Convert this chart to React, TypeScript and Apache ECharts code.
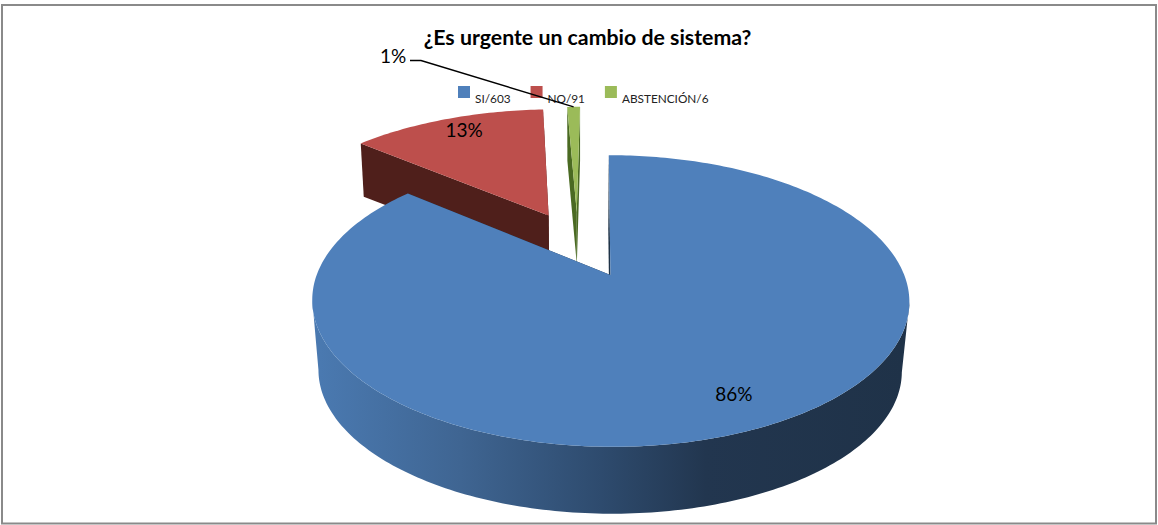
import React, { useEffect, useRef } from "react";
import * as echarts from "echarts";

const CATEGORIES = ["SI", "NO", "ABSTENCIÓN"];
const VALUES = [603, 91, 6];
const FACE_COLORS = ["#4f80bb", "#bd4f4c", "#9bbb59"];
const CUT_COLORS = ["#1f3347", "#4f1f1b", "#4a6a22"];
const EXPLOSION = [0.235, 0.27, 0.27];
const RIM_SCALE = [1, 1.03, 1.03];
const THICKNESS = [1, 0.72, 0.72];
const SHIFT_U = [0, -0.005, -0.015];
const LABEL_RADIUS = [0.8, 0.88, 0];
const LABEL_NUDGE = [[8, 1], [4, -2], [0, 0]];
const TITLE = "¿Es urgente un cambio de sistema?";
const FONT = "Lato, 'Open Sans', sans-serif";

// Painter's order: the back slices first, the large front slice last.
const DRAW_ORDER = [1, 2, 0];

const TOTAL = VALUES.reduce((a, b) => a + b, 0);

// Camera: a homography from the unit disc (u right, v away) to the page; z pushes a
// point down the pie's side wall, so the lower rim is a little narrower than the upper one.
const CAM = { x: 582, y: 246, a: 131, b: 283, c: 3, k: 0.172, n: 0.022, drop: 77.7, dropSlope: -0.0241 };
const project = (u: number, v: number, z: number): number[] => {
  const w = 1 + CAM.k * v;
  const y = CAM.y - (CAM.a * v) / w;
  return [
    CAM.x + (CAM.b * u + CAM.c * v) / (w + CAM.n * z),
    y + z * (CAM.drop + CAM.dropSlope * y),
  ];
};

const sliceAngles = (i: number) => {
  const before = VALUES.slice(0, i).reduce((a, b) => a + b, 0);
  return [(before / TOTAL) * 2 * Math.PI, ((before + VALUES[i]) / TOTAL) * 2 * Math.PI];
};

const renderSlice = (i: number) => () => {
  const [a0, a1] = sliceAngles(i);
  const mid = (a0 + a1) / 2;
  const ou = EXPLOSION[i] * Math.sin(mid) + SHIFT_U[i];
  const ov = EXPLOSION[i] * Math.cos(mid);
  const r = RIM_SCALE[i];
  const rim = (z: number): number[][] => {
    const n = Math.max(4, Math.ceil(((a1 - a0) * 180) / Math.PI));
    const pts: number[][] = [];
    for (let s = 0; s <= n; s++) {
      const t = a0 + ((a1 - a0) * s) / n;
      pts.push(project(ou + r * Math.sin(t), ov + r * Math.cos(t), z));
    }
    return pts;
  };
  const depth = THICKNESS[i];
  const topRim = rim(0);
  const lowRim = rim(depth);
  const apexTop = project(ou, ov, 0);
  const apexLow = project(ou, ov, depth);

  const children: any[] = [];
  // The outer wall shows only between the rim's rightmost and leftmost points.
  const xs = topRim.map((p) => p[0]);
  const right = xs.indexOf(Math.max(...xs));
  const left = xs.indexOf(Math.min(...xs));
  if (right < left) {
    children.push({
      type: "polygon",
      shape: {
        points: [...topRim.slice(right, left + 1), ...lowRim.slice(right, left + 1).reverse()],
      },
      style: {
        fill: new echarts.graphic.LinearGradient(
          320, 0, 905, 0,
          [
            { offset: 0, color: "#4a79b0" },
            { offset: 0.24, color: "#3f6592" },
            { offset: 0.48, color: "#2e4b6e" },
            { offset: 0.66, color: "#22364f" },
            { offset: 1, color: "#1f3248" },
          ],
          true
        ),
      },
    });
  }
  children.push(
    {
      type: "polygon",
      shape: { points: [apexTop, topRim[0], lowRim[0], apexLow] },
      style: { fill: CUT_COLORS[i] },
    },
    {
      type: "polygon",
      shape: { points: [apexTop, topRim[topRim.length - 1], lowRim[lowRim.length - 1], apexLow] },
      style: { fill: CUT_COLORS[i] },
    },
    {
      type: "polygon",
      shape: { points: [apexTop, ...topRim] },
      style: { fill: FACE_COLORS[i] },
    }
  );
  const percent = `${Math.round((VALUES[i] / TOTAL) * 100)}%`;
  if (LABEL_RADIUS[i] > 0) {
    const [lx, ly] = project(
      ou + LABEL_RADIUS[i] * Math.sin(mid),
      ov + LABEL_RADIUS[i] * Math.cos(mid),
      0
    );
    children.push({
      type: "text",
      x: lx + LABEL_NUDGE[i][0],
      y: ly + LABEL_NUDGE[i][1],
      style: { text: percent, fill: "#000", font: `19px ${FONT}`, align: "center", verticalAlign: "middle" },
    });
  } else {
    // The sliver has no room for its label: it sits outside, on a leader line.
    const tip = project(ou + r * Math.sin(mid), ov + r * Math.cos(mid), 0);
    children.push(
      {
        type: "polyline",
        shape: { points: [[410, 60.5], [421, 60.5], tip] },
        style: { stroke: "#000", lineWidth: 1.5, fill: "none" },
      },
      {
        type: "text",
        x: 393,
        y: 55,
        style: { text: percent, fill: "#000", font: `19px ${FONT}`, align: "center", verticalAlign: "middle" },
      }
    );
  }
  return { type: "group", children };
};

export default function App() {
  const ref = useRef<HTMLDivElement>(null);
  useEffect(() => {
    const chart = echarts.init(ref.current!, undefined, { renderer: "svg" });
    chart.setOption({
      animation: false,
      backgroundColor: "#fff",
      title: {
        text: TITLE,
        left: 582.5,
        top: 21.5,
        textAlign: "center",
        textStyle: { fontFamily: FONT, fontWeight: "bold", fontSize: 21.3, color: "#000" },
      },
      legend: {
        left: 453,
        top: 81,
        z: 1,
        itemWidth: 12,
        itemHeight: 12,
        itemGap: 20,
        icon: "rect",
        selectedMode: false,
        data: CATEGORIES.map((c, i) => `${c}/${VALUES[i]}`),
        formatter: (name: string) => `{t|${name}}`,
        textStyle: {
          rich: { t: { fontFamily: FONT, fontSize: 11.8, color: "#222", padding: [12, 0, 0, 0] } },
        },
      },
      graphic: [
        {
          type: "rect",
          shape: { x: 2, y: 5, width: 1154, height: 518.5 },
          style: { fill: "none", stroke: "#8a8a8a", lineWidth: 2 },
          silent: true,
        },
      ],
      series: DRAW_ORDER.map((i, order) => ({
        type: "custom",
        coordinateSystem: "none",
        name: `${CATEGORIES[i]}/${VALUES[i]}`,
        z: 2 + order,
        silent: true,
        itemStyle: { color: FACE_COLORS[i] },
        data: [[VALUES[i]]],
        renderItem: renderSlice(i),
      })),
    });
    return () => chart.dispose();
  }, []);
  return <div ref={ref} style={{ position: "fixed", left: 0, top: 0, width: 1158, height: 525 }} />;
}
